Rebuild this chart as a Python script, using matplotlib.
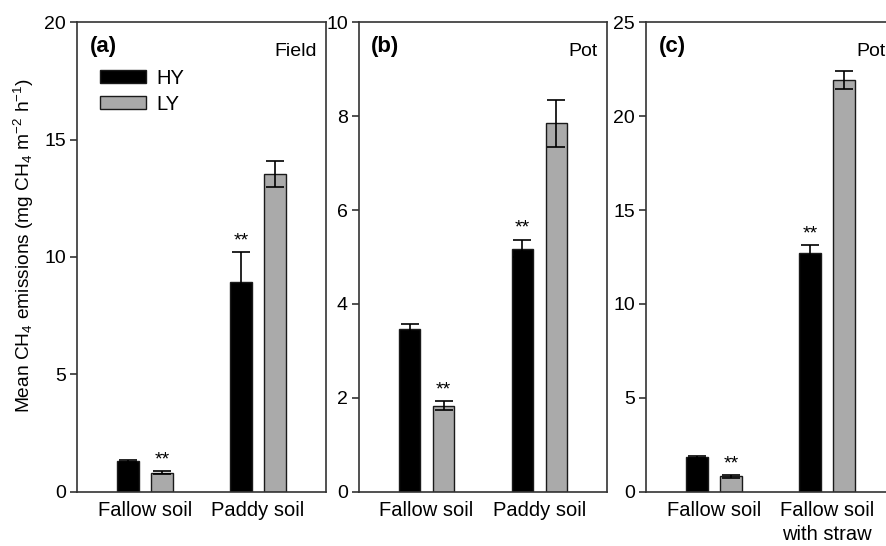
import matplotlib
matplotlib.use("Agg")
import matplotlib.pyplot as plt
import numpy as np
from matplotlib.patches import Patch

plt.rcParams["font.family"] = ["Liberation Sans", "DejaVu Sans"]
plt.rcParams["mathtext.fontset"] = "custom"
plt.rcParams["mathtext.rm"] = "Liberation Sans"
plt.rcParams["mathtext.it"] = "Liberation Sans:italic"

# panel (a) field
a_groups = ["Fallow soil", "Paddy soil"]
a_hy = [1.30, 8.95]
a_hy_err = [0.03, 1.25]
a_ly = [0.80, 13.55]
a_ly_err = [0.06, 0.55]
a_hy_sig = ["", "**"]
a_ly_sig = ["**", ""]

# panel (b) pot
b_groups = ["Fallow soil", "Paddy soil"]
b_hy = [3.47, 5.18]
b_hy_err = [0.10, 0.19]
b_ly = [1.83, 7.85]
b_ly_err = [0.10, 0.50]
b_hy_sig = ["", "**"]
b_ly_sig = ["**", ""]

# panel (c) pot with straw
c_groups = ["Fallow soil", "Fallow soil\nwith straw"]
c_hy = [1.85, 12.73]
c_hy_err = [0.05, 0.40]
c_ly = [0.82, 21.92]
c_ly_err = [0.08, 0.48]
c_hy_sig = ["", "**"]
c_ly_sig = ["**", ""]

GREY = "#aaaaaa"
EDGE = "#1a1a1a"
W = 0.19
OFF = 0.15


def draw_panel(ax, groups, hy, hy_err, ly, ly_err, hy_sig, ly_sig, ymax, ystep, tag, site,
               xmax=1.6):
    x = np.arange(len(groups))
    ax.bar(x - OFF, hy, W, color="black", edgecolor=EDGE, linewidth=1.0, zorder=2)
    ax.bar(x + OFF, ly, W, color=GREY, edgecolor=EDGE, linewidth=1.0, zorder=2)
    ax.errorbar(x - OFF, hy, yerr=hy_err, fmt="none", ecolor="black", elinewidth=1.2,
                capsize=6.5, capthick=1.2, zorder=3)
    ax.errorbar(x + OFF, ly, yerr=ly_err, fmt="none", ecolor="black", elinewidth=1.2,
                capsize=6.5, capthick=1.2, zorder=3)
    for xi, v, e, s in zip(x - OFF, hy, hy_err, hy_sig):
        if s:
            ax.annotate(s, (xi, v + e), xytext=(0, 2), textcoords="offset points",
                        ha="center", va="bottom", fontsize=14)
    for xi, v, e, s in zip(x + OFF, ly, ly_err, ly_sig):
        if s:
            ax.annotate(s, (xi, v + e), xytext=(0, 2), textcoords="offset points",
                        ha="center", va="bottom", fontsize=14)

    ax.set_xlim(-0.6, xmax)
    ax.set_ylim(0, ymax)
    ax.set_yticks(np.arange(0, ymax + 0.01, ystep))
    ax.set_xticks(x)
    ax.set_xticklabels(groups, fontsize=14.5, linespacing=1.3)
    ax.tick_params(axis="x", length=0, pad=7)
    ax.tick_params(axis="y", direction="out", length=5, width=1.2, labelsize=14,
                   pad=3, color="#333333")
    for sp in ax.spines.values():
        sp.set_linewidth(1.2)
        sp.set_color("#333333")
    ax.text(0.05, 0.97, tag, transform=ax.transAxes, fontsize=16, fontweight="bold",
            ha="left", va="top")
    # site label sits just inside the right edge of a 2.2-unit wide panel
    ax.text(1.6 - 0.08, ymax * 0.955, site, fontsize=14, ha="right", va="top")


fig = plt.figure(figsize=(8.87, 5.46), dpi=100)
bottom = 0.0995
height = 0.8597
ax_a = fig.add_axes([0.0868, bottom, 0.2807, height])
ax_b = fig.add_axes([0.4047, bottom, 0.2796, height])
# panel (c) runs past the right edge of the picture, as in the cropped original
c_width = 0.30
c_xmax = -0.6 + 2.2 * c_width / 0.2807
ax_c = fig.add_axes([0.7283, bottom, c_width, height])

draw_panel(ax_a, a_groups, a_hy, a_hy_err, a_ly, a_ly_err, a_hy_sig, a_ly_sig, 20, 5, "(a)", "Field")
draw_panel(ax_b, b_groups, b_hy, b_hy_err, b_ly, b_ly_err, b_hy_sig, b_ly_sig, 10, 2, "(b)", "Pot")
draw_panel(ax_c, c_groups, c_hy, c_hy_err, c_ly, c_ly_err, c_hy_sig, c_ly_sig, 25, 5, "(c)", "Pot",
           xmax=c_xmax)
ax_c.texts[-2].set_position((0.05 * 0.2807 / c_width, 0.97))

ax_a.set_ylabel(r"Mean CH$_4$ emissions (mg CH$_4$ m$^{-2}$ h$^{-1}$)", fontsize=13.8)
ax_a.yaxis.set_label_coords(-0.165, 0.525)

handles = [Patch(facecolor="black", edgecolor=EDGE, linewidth=1.0, label="HY"),
           Patch(facecolor=GREY, edgecolor=EDGE, linewidth=1.0, label="LY")]
ax_a.legend(handles=handles, loc="upper left", bbox_to_anchor=(0.075, 0.91), frameon=False,
            fontsize=14.5, handlelength=2.3, handleheight=0.65, handletextpad=0.5,
            labelspacing=0.35, borderaxespad=0.0, borderpad=0.2)

fig.savefig("out.png", dpi=100)
